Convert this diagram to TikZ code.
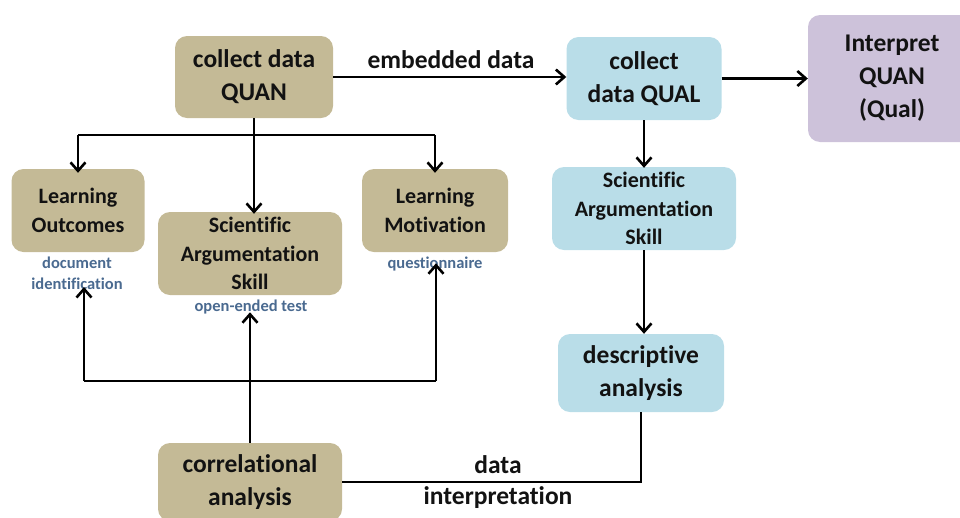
\documentclass[tikz,border=0pt]{standalone}
\usepackage{fontspec}
\setmainfont{Carlito}[Ligatures=NoCommon]
\usetikzlibrary{arrows.meta}
\definecolor{boxtan}{HTML}{C4BA96}
\definecolor{boxblue}{HTML}{B9DDE8}
\definecolor{boxlilac}{HTML}{CDC2DA}
\definecolor{notecol}{HTML}{4A6A90}
\definecolor{inkcol}{HTML}{121212}
\begin{document}
\begin{tikzpicture}[x=1pt,y=-1pt,
  box/.style={rounded corners=12pt, align=center, inner sep=0pt, text=inkcol},
  bigtxt/.style={font=\bfseries\fontsize{25.5}{33}\selectfont},
  midtxt/.style={font=\bfseries\fontsize{22}{28.5}\selectfont},
  quanbox/.style={box, fill=boxtan},
  qualbox/.style={box, fill=boxblue},
  note/.style={align=center, inner sep=0pt, text=notecol, font=\bfseries\fontsize{16.5}{21}\selectfont},
  lbl/.style={align=center, inner sep=0pt, text=inkcol, font=\bfseries\fontsize{25.5}{31}\selectfont},
  link/.style={line width=2.9pt, draw=black},
  arr/.style={link, -{Straight Barb[length=8.5pt,width=15pt,line width=2.6pt]}}
]
\useasboundingbox (0,0) rectangle (960,517);

% boxes
\node[quanbox, bigtxt, minimum width=158pt, minimum height=82pt] (quan) at (254,77) {collect data\\QUAN};
\node[qualbox, bigtxt, minimum width=155pt, minimum height=83pt] (qual) at (644,78.5) {collect\\data QUAL};
\node[box, fill=boxlilac, bigtxt, minimum width=168pt, minimum height=127pt, text width=168pt] (interp) at (892,78.5) {Interpret\\QUAN\\(Qual)};
\node[quanbox, midtxt, minimum width=133pt, minimum height=83pt] (lo) at (78,210.5) {Learning\\Outcomes};
\node[quanbox, midtxt, minimum width=184pt, minimum height=83pt] (sat) at (250,253.5) {Scientific\\Argumentation\\Skill};
\node[quanbox, midtxt, minimum width=146pt, minimum height=83pt] (lm) at (435,210.5) {Learning\\Motivation};
\node[qualbox, midtxt, minimum width=184pt, minimum height=83pt] (sab) at (644,208.5) {Scientific\\Argumentation\\Skill};
\node[qualbox, bigtxt, minimum width=166pt, minimum height=78pt] (desc) at (641,373) {descriptive\\analysis};
\node[quanbox, bigtxt, minimum width=184pt, minimum height=78pt] (corr) at (250,482) {correlational\\analysis};

% notes under the boxes
\node[note] (lonote) at (77,273.5) {document\\identification};
\node[note] (satnote) at (251,307) {open-ended test};
\node[note] (lmnote) at (435,264) {questionnaire};

% free labels
\node[lbl] (emb) at (451,60) {embedded data};
\node[lbl] (interp-lbl) at (498,482) {data\\interpretation};

% top row
\draw[arr] (quan.east) -- (quan.east -| qual.west);
\draw[arr] (qual.east) -- (qual.east -| interp.west);

% fork from the quantitative collection
\coordinate (fork) at (254,135);
\draw[arr] (quan.south) -- ([yshift=-2pt]quan.south |- sat.north);
\draw[link] (fork -| lo.north) -- (fork -| lm.north);
\draw[arr] (fork -| lo.north) -- ([yshift=-4pt]lo.north);
\draw[arr] (fork -| lm.north) -- ([yshift=-4pt]lm.north);

% qualitative chain
\draw[arr] (qual.south) -- ([yshift=-1pt]sab.north);
\draw[arr] (sab.south) -- (sab.south |- desc.north);
\draw[link] (desc.south) |- (corr.east);

% feedback from the correlational analysis
\coordinate (lpt) at (84,381);
\coordinate (rpt) at (436,381);
\draw[link] (lpt) -- (rpt);
\draw[arr] (corr.north) -- ([yshift=2pt]corr.north |- satnote.south);
\draw[arr] (lpt) -- ([yshift=3pt]lpt |- lonote.south);
\draw[arr] (rpt) -- ([yshift=8pt]rpt |- lmnote.south);
\end{tikzpicture}
\end{document}
